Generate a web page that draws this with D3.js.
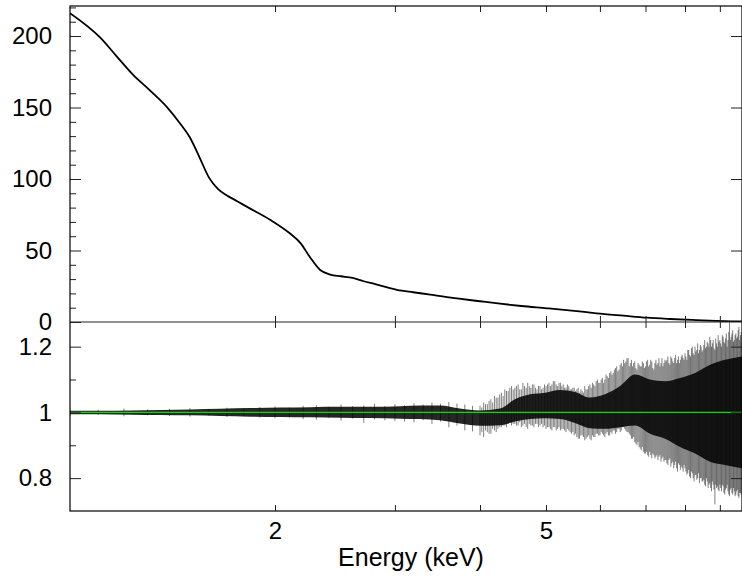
<!DOCTYPE html>
<html>
<head>
<meta charset="utf-8">
<script src="https://cdn.jsdelivr.net/npm/d3@7"></script>
<style>
  html, body { margin: 0; padding: 0; background: #fff; }
  svg { display: block; }
  text { font-family: "Liberation Sans", Arial, Helvetica, sans-serif; }
</style>
</head>
<body>
<svg id="chart" width="742" height="579"></svg>
<script>
// ---------------- data ----------------
// Top panel: spectrum (counts) vs energy (keV)
const specEnergy = [1.00, 1.107, 1.17, 1.237, 1.31, 1.388, 1.45, 1.50, 1.55, 1.60, 1.65, 1.70, 1.76, 1.82, 1.97, 2.10, 2.18, 2.25, 2.33, 2.41, 2.50, 2.60, 2.70, 2.80, 3.02, 3.19, 3.38, 3.70, 4.00, 4.28, 4.60, 5.02, 5.50, 5.93, 6.50, 7.03, 7.60, 8.32, 8.90, 9.39, 9.70];
const specCounts = [216, 199, 186, 173, 162, 150.3, 139, 129, 115, 101, 93, 88.5, 84.5, 80.5, 71.3, 62.2, 55.2, 45.5, 36.4, 33.2, 32.0, 30.8, 28.5, 26.6, 22.5, 20.8, 19.2, 16.5, 14.5, 12.8, 11.2, 9.6, 7.8, 6.1, 4.4, 3.0, 2.1, 1.3, 0.8, 0.5, 0.35];

// Bottom panel: ratio, dense core of the scatter (lower / upper edge)
const coreEnergy = [1.000, 1.107, 1.225, 1.356, 1.500, 1.661, 1.838, 2.034, 2.252, 2.492, 2.757, 3.052, 3.266, 3.494, 3.738, 4.000, 4.280, 4.501, 4.737, 4.984, 5.243, 5.515, 5.802, 6.104, 6.422, 6.755, 7.107, 7.476, 7.866, 8.277, 8.707, 9.159, 9.70];
const coreLow  = [0.994, 0.994, 0.993, 0.992, 0.991, 0.989, 0.987, 0.986, 0.985, 0.984, 0.983, 0.981, 0.980, 0.976, 0.966, 0.959, 0.961, 0.972, 0.980, 0.982, 0.980, 0.968, 0.952, 0.950, 0.955, 0.960, 0.935, 0.920, 0.895, 0.875, 0.850, 0.840, 0.830];
const coreHigh = [1.005, 1.005, 1.006, 1.007, 1.009, 1.011, 1.013, 1.015, 1.016, 1.017, 1.017, 1.019, 1.021, 1.021, 1.012, 1.006, 1.012, 1.040, 1.055, 1.060, 1.068, 1.062, 1.045, 1.055, 1.080, 1.115, 1.100, 1.095, 1.105, 1.120, 1.145, 1.160, 1.170];

// Bottom panel: individual error-bar spikes that stick out of the core
const spikeEnergy = [
  1.0, 1.1, 1.2, 1.3, 1.4, 1.5, 1.6, 1.7, 1.8, 1.9,
  2.0, 2.1, 2.2, 2.3, 2.4, 2.5, 2.6, 2.7, 2.8, 2.9,
  3.0, 3.1, 3.2, 3.3, 3.4, 3.5, 3.6, 3.7, 3.8, 3.9,
  4.00, 4.05, 4.10, 4.15, 4.20, 4.25, 4.30, 4.35, 4.40, 4.45,
  4.50, 4.55, 4.60, 4.65, 4.70, 4.75, 4.80, 4.85, 4.90, 4.95,
  5.00, 5.05, 5.10, 5.15, 5.20, 5.25, 5.30, 5.35, 5.40, 5.45,
  5.50, 5.55, 5.60, 5.65, 5.70, 5.75, 5.80, 5.85, 5.90, 5.95,
  6.00, 6.05, 6.10, 6.15, 6.20, 6.25, 6.30, 6.35, 6.40, 6.45,
  6.50, 6.55, 6.60, 6.65, 6.70, 6.75, 6.80, 6.85, 6.90, 6.95,
  7.00, 7.05, 7.10, 7.15, 7.20, 7.25, 7.30, 7.35, 7.40, 7.45,
  7.50, 7.55, 7.60, 7.65, 7.70, 7.75, 7.80, 7.85, 7.90, 7.95,
  8.00, 8.05, 8.10, 8.15, 8.20, 8.25, 8.30, 8.35, 8.40, 8.45,
  8.50, 8.55, 8.60, 8.65, 8.70, 8.75, 8.80, 8.85, 8.90, 8.95,
  9.00, 9.05, 9.10, 9.15, 9.20, 9.25, 9.30, 9.35, 9.40, 9.45,
  9.50, 9.55, 9.60, 9.65
];
const spikeHigh = [
  1.010, 1.008, 1.012, 1.009, 1.011, 1.013, 1.010, 1.014, 1.012, 1.016,
  1.018, 1.015, 1.020, 1.022, 1.017, 1.024, 1.019, 1.021, 1.026, 1.020,
  1.025, 1.022, 1.028, 1.024, 1.030, 1.026, 1.032, 1.027, 1.024, 1.020,
  1.020, 1.030, 1.025, 1.040, 1.050, 1.045, 1.060, 1.070, 1.065, 1.080,
  1.075, 1.085, 1.070, 1.080, 1.090, 1.075, 1.085, 1.070, 1.080, 1.075,
  1.080, 1.090, 1.085, 1.095, 1.080, 1.090, 1.085, 1.075, 1.080, 1.070,
  1.075, 1.070, 1.060, 1.065, 1.080, 1.070, 1.085, 1.090, 1.080, 1.100,
  1.090, 1.105, 1.100, 1.110, 1.120, 1.115, 1.130, 1.140, 1.130, 1.150,
  1.160, 1.155, 1.165, 1.150, 1.140, 1.155, 1.130, 1.145, 1.140, 1.150,
  1.140, 1.160, 1.145, 1.155, 1.130, 1.160, 1.150, 1.140, 1.165, 1.150,
  1.155, 1.170, 1.145, 1.165, 1.150, 1.175, 1.160, 1.150, 1.170, 1.165,
  1.180, 1.160, 1.190, 1.170, 1.200, 1.175, 1.185, 1.210, 1.190, 1.200,
  1.190, 1.220, 1.200, 1.210, 1.230, 1.200, 1.220, 1.190, 1.210, 1.235,
  1.220, 1.200, 1.230, 1.210, 1.240, 1.220, 1.275, 1.230, 1.250, 1.220,
  1.240, 1.230, 1.260, 1.235
];
const spikeLow = [
  0.990, 0.992, 0.988, 0.991, 0.989, 0.987, 0.990, 0.986, 0.988, 0.984,
  0.982, 0.985, 0.980, 0.978, 0.983, 0.975, 0.981, 0.968, 0.979, 0.976,
  0.974, 0.972, 0.970, 0.976, 0.965, 0.972, 0.955, 0.960, 0.945, 0.942,
  0.930, 0.925, 0.940, 0.935, 0.945, 0.950, 0.955, 0.960, 0.965, 0.960,
  0.965, 0.960, 0.955, 0.965, 0.950, 0.960, 0.955, 0.965, 0.960, 0.955,
  0.950, 0.955, 0.945, 0.955, 0.950, 0.945, 0.950, 0.940, 0.945, 0.935,
  0.930, 0.925, 0.920, 0.930, 0.915, 0.925, 0.920, 0.930, 0.925, 0.935,
  0.930, 0.935, 0.925, 0.940, 0.930, 0.935, 0.945, 0.940, 0.950, 0.945,
  0.955, 0.945, 0.940, 0.930, 0.920, 0.910, 0.900, 0.895, 0.885, 0.880,
  0.875, 0.870, 0.880, 0.860, 0.870, 0.865, 0.855, 0.870, 0.860, 0.850,
  0.855, 0.840, 0.860, 0.845, 0.830, 0.850, 0.820, 0.840, 0.835, 0.820,
  0.830, 0.810, 0.825, 0.800, 0.815, 0.790, 0.810, 0.800, 0.785, 0.800,
  0.790, 0.780, 0.800, 0.770, 0.785, 0.760, 0.780, 0.720, 0.770, 0.765,
  0.780, 0.760, 0.775, 0.750, 0.770, 0.760, 0.745, 0.770, 0.750, 0.760,
  0.750, 0.765, 0.740, 0.755
];
// second, interleaved set of spikes (4-9.7 keV)
const spikeEnergy2 = [
  4.025, 4.075, 4.125, 4.175, 4.225, 4.275, 4.325, 4.375, 4.425, 4.475,
  4.525, 4.575, 4.625, 4.675, 4.725, 4.775, 4.825, 4.875, 4.925, 4.975,
  5.025, 5.075, 5.125, 5.175, 5.225, 5.275, 5.325, 5.375, 5.425, 5.475,
  5.525, 5.575, 5.625, 5.675, 5.725, 5.775, 5.825, 5.875, 5.925, 5.975,
  6.025, 6.075, 6.125, 6.175, 6.225, 6.275, 6.325, 6.375, 6.425, 6.475,
  6.525, 6.575, 6.625, 6.675, 6.725, 6.775, 6.825, 6.875, 6.925, 6.975,
  7.025, 7.075, 7.125, 7.175, 7.225, 7.275, 7.325, 7.375, 7.425, 7.475,
  7.525, 7.575, 7.625, 7.675, 7.725, 7.775, 7.825, 7.875, 7.925, 7.975,
  8.025, 8.075, 8.125, 8.175, 8.225, 8.275, 8.325, 8.375, 8.425, 8.475,
  8.525, 8.575, 8.625, 8.675, 8.725, 8.775, 8.825, 8.875, 8.925, 8.975,
  9.025, 9.075, 9.125, 9.175, 9.225, 9.275, 9.325, 9.375, 9.425, 9.475,
  9.525, 9.575, 9.625, 9.675
];
const spikeHigh2 = [
  1.015, 1.025, 1.035, 1.030, 1.045, 1.055, 1.050, 1.065, 1.075, 1.070,
  1.080, 1.070, 1.090, 1.075, 1.080, 1.085, 1.075, 1.080, 1.070, 1.085,
  1.085, 1.080, 1.095, 1.085, 1.090, 1.080, 1.075, 1.085, 1.070, 1.075,
  1.065, 1.075, 1.070, 1.060, 1.070, 1.080, 1.075, 1.085, 1.095, 1.090,
  1.100, 1.090, 1.115, 1.105, 1.125, 1.120, 1.135, 1.125, 1.145, 1.140,
  1.150, 1.165, 1.140, 1.160, 1.150, 1.135, 1.150, 1.140, 1.155, 1.135,
  1.155, 1.140, 1.160, 1.135, 1.150, 1.145, 1.165, 1.150, 1.140, 1.160,
  1.160, 1.150, 1.170, 1.155, 1.165, 1.150, 1.170, 1.160, 1.175, 1.160,
  1.170, 1.190, 1.175, 1.195, 1.180, 1.200, 1.190, 1.180, 1.205, 1.185,
  1.205, 1.195, 1.215, 1.200, 1.220, 1.210, 1.195, 1.225, 1.200, 1.215,
  1.210, 1.235, 1.215, 1.225, 1.200, 1.245, 1.220, 1.240, 1.215, 1.235,
  1.225, 1.250, 1.220, 1.245
];
const spikeLow2 = [
  0.940, 0.945, 0.935, 0.950, 0.940, 0.955, 0.960, 0.955, 0.970, 0.965,
  0.960, 0.970, 0.960, 0.955, 0.965, 0.960, 0.965, 0.955, 0.965, 0.960,
  0.955, 0.950, 0.955, 0.945, 0.955, 0.950, 0.945, 0.950, 0.940, 0.940,
  0.935, 0.920, 0.930, 0.925, 0.920, 0.930, 0.915, 0.925, 0.935, 0.930,
  0.940, 0.930, 0.935, 0.930, 0.940, 0.945, 0.935, 0.950, 0.940, 0.955,
  0.950, 0.940, 0.935, 0.920, 0.925, 0.905, 0.910, 0.890, 0.895, 0.875,
  0.880, 0.865, 0.870, 0.875, 0.860, 0.870, 0.865, 0.850, 0.865, 0.855,
  0.845, 0.855, 0.835, 0.850, 0.840, 0.830, 0.845, 0.825, 0.830, 0.840,
  0.820, 0.815, 0.805, 0.820, 0.800, 0.810, 0.795, 0.815, 0.800, 0.790,
  0.795, 0.775, 0.790, 0.780, 0.770, 0.790, 0.765, 0.780, 0.775, 0.760,
  0.770, 0.780, 0.755, 0.765, 0.780, 0.750, 0.765, 0.755, 0.770, 0.745,
  0.760, 0.745, 0.755, 0.750
];

// Axis tick values / labels
const xTickValues = [2, 3, 4, 5, 6, 7, 8, 9];
const xTickLabels = [2, 5];
const topMajorTicks = [0, 50, 100, 150, 200];
const topMinorTicks = [10, 20, 30, 40, 60, 70, 80, 90, 110, 120, 130, 140, 160, 170, 180, 190, 210, 220];
const ratioMajorTicks = [0.8, 1, 1.2];
const ratioMinorTicks = [0.9, 1.1];
const xTitle = "Energy (keV)";

// ---------------- layout ----------------
const L = 70, R = 742, T = 6, MID = 322, B = 511;
const FONT = 24;
const svg = d3.select("#chart");

const x = d3.scaleLog().domain([1.0, 9.70]).range([L, R]);
const yTop = d3.scaleLinear().domain([0, 221]).range([MID, T]);
const yBot = d3.scaleLinear().domain([0.70, 1.275]).range([B, MID]);

const defs = svg.append("defs");
defs.append("clipPath").attr("id", "clipTop").append("rect")
  .attr("x", L).attr("y", T).attr("width", R - L).attr("height", MID - T);
defs.append("clipPath").attr("id", "clipBot").append("rect")
  .attr("x", L).attr("y", MID).attr("width", R - L).attr("height", B - MID);

// ---------------- bottom panel: ratio ----------------
const gBot = svg.append("g").attr("clip-path", "url(#clipBot)");
const core = coreEnergy.map((e, i) => ({ e, lo: coreLow[i], hi: coreHigh[i] }));
gBot.append("path").datum(core)
  .attr("fill", "#000").attr("fill-opacity", 0.85)
  .attr("d", d3.area().x(d => x(d.e)).y0(d => yBot(d.lo)).y1(d => yBot(d.hi)).curve(d3.curveMonotoneX));

const spikes = spikeEnergy.map((e, i) => ({ e, lo: spikeLow[i], hi: spikeHigh[i] }))
  .concat(spikeEnergy2.map((e, i) => ({ e, lo: spikeLow2[i], hi: spikeHigh2[i] })));
gBot.selectAll("line.spike").data(spikes).join("line")
  .attr("class", "spike")
  .attr("x1", d => x(d.e)).attr("x2", d => x(d.e))
  .attr("y1", d => yBot(d.lo)).attr("y2", d => yBot(d.hi))
  .attr("stroke", "#000").attr("stroke-opacity", 0.5).attr("stroke-width", 1);

gBot.append("line")
  .attr("x1", L).attr("x2", R).attr("y1", yBot(1)).attr("y2", yBot(1))
  .attr("stroke", "#00e000").attr("stroke-width", 1.4);

// ---------------- top panel: spectrum ----------------
const gTop = svg.append("g").attr("clip-path", "url(#clipTop)");
const spec = specEnergy.map((e, i) => ({ e, v: specCounts[i] }));
gTop.append("path").datum(spec)
  .attr("fill", "none").attr("stroke", "#000").attr("stroke-width", 1.8)
  .attr("d", d3.line().x(d => x(d.e)).y(d => yTop(d.v)).curve(d3.curveMonotoneX));

// ---------------- axes ----------------
function styleAxis(g) {
  g.select(".domain").remove();
  g.selectAll(".tick line").attr("stroke", "#222").attr("stroke-width", 1);
  g.selectAll(".tick text").attr("fill", "#000").attr("font-size", FONT)
    .attr("font-family", '"Liberation Sans", Arial, Helvetica, sans-serif');
}
const noLabel = () => "";

// left axes
svg.append("g").attr("transform", `translate(${L},0)`)
  .call(d3.axisLeft(yTop).tickValues(topMajorTicks).tickSize(-11).tickPadding(18).tickFormat(d3.format("d")))
  .call(styleAxis);
svg.append("g").attr("transform", `translate(${L},0)`)
  .call(d3.axisLeft(yTop).tickValues(topMinorTicks).tickSize(-6).tickFormat(noLabel))
  .call(styleAxis);
svg.append("g").attr("transform", `translate(${L},0)`)
  .call(d3.axisLeft(yBot).tickValues(ratioMajorTicks).tickSize(-11).tickPadding(18).tickFormat(d => String(d)))
  .call(styleAxis);
svg.append("g").attr("transform", `translate(${L},0)`)
  .call(d3.axisLeft(yBot).tickValues(ratioMinorTicks).tickSize(-6).tickFormat(noLabel))
  .call(styleAxis);

// right axes (no labels)
svg.append("g").attr("transform", `translate(${R},0)`)
  .call(d3.axisRight(yTop).tickValues(topMajorTicks.filter(v => v > 0)).tickSize(-11).tickFormat(noLabel))
  .call(styleAxis);
svg.append("g").attr("transform", `translate(${R},0)`)
  .call(d3.axisRight(yBot).tickValues(ratioMajorTicks).tickSize(-11).tickFormat(noLabel))
  .call(styleAxis);

// energy axes: top frame, both sides of the middle line, bottom frame
svg.append("g").attr("transform", `translate(0,${T})`)
  .call(d3.axisTop(x).tickValues(xTickValues).tickSize(-6).tickFormat(noLabel)).call(styleAxis);
svg.append("g").attr("transform", `translate(0,${MID})`)
  .call(d3.axisBottom(x).tickValues(xTickValues).tickSize(-6).tickFormat(noLabel)).call(styleAxis);
svg.append("g").attr("transform", `translate(0,${MID})`)
  .call(d3.axisTop(x).tickValues(xTickValues).tickSize(-6).tickFormat(noLabel)).call(styleAxis);
svg.append("g").attr("transform", `translate(0,${B})`)
  .call(d3.axisBottom(x).tickValues(xTickValues).tickSize(-6).tickPadding(11)
    .tickFormat(d => xTickLabels.includes(d) ? String(d) : ""))
  .call(styleAxis);

// frame and middle divider
svg.append("rect").attr("x", L).attr("y", T).attr("width", R - L).attr("height", B - T)
  .attr("fill", "none").attr("stroke", "#000").attr("stroke-width", 1.2);
svg.append("line").attr("x1", L).attr("x2", R).attr("y1", MID).attr("y2", MID)
  .attr("stroke", "#222").attr("stroke-width", 1.2);

// axis title
svg.append("text").attr("x", 411).attr("y", 566).attr("text-anchor", "middle")
  .attr("font-size", 25).attr("fill", "#000").text(xTitle);
</script>
</body>
</html>
